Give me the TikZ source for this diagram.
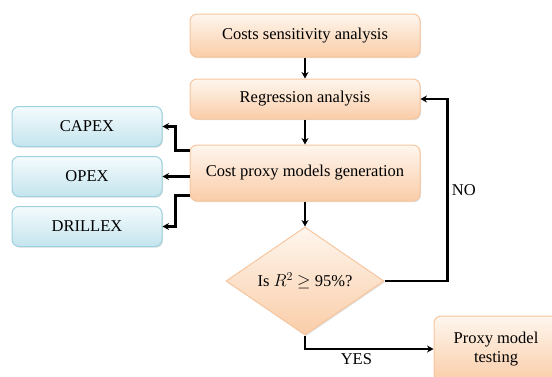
\documentclass[tikz,border=0pt]{standalone}
\usepackage{fontspec}
\setmainfont{Liberation Serif}
\usetikzlibrary{positioning}
\usetikzlibrary{shapes.geometric}
\usetikzlibrary{shadows}
\usetikzlibrary{arrows.meta}
\definecolor{peachline}{RGB}{248,198,158}
\definecolor{peachtop}{RGB}{254,246,238}
\definecolor{peachbottom}{RGB}{250,205,168}
\definecolor{iceline}{RGB}{158,210,224}
\definecolor{icetop}{RGB}{244,251,253}
\definecolor{icebottom}{RGB}{196,228,237}
\tikzset{flow node/.style={rectangle,rounded corners=7pt,draw=peachline,line width=1pt,top color=peachtop,bottom color=peachbottom,minimum width=230pt,inner sep=2pt,font=\fontsize{16.5}{19}\selectfont,drop shadow={shadow xshift=1pt,shadow yshift=-1.2pt,opacity=0.25}},
  cost node/.style={rectangle,rounded corners=7pt,draw=iceline,line width=1pt,top color=icetop,bottom color=icebottom,minimum width=150pt,minimum height=40pt,inner sep=2pt,font=\fontsize{16.5}{19}\selectfont,drop shadow={shadow xshift=1pt,shadow yshift=-1.2pt,opacity=0.25}},
  check node/.style={diamond,aspect=1.46,draw=peachline,line width=1pt,top color=peachtop,bottom color=peachbottom,minimum width=158pt,minimum height=108pt,inner sep=0pt,font=\fontsize{16.5}{19}\selectfont,drop shadow={shadow xshift=1pt,shadow yshift=-1.2pt,opacity=0.25}},}

\begin{document}
\begin{tikzpicture}[x=1pt,y=1pt,>={Stealth[length=6.5pt,width=7pt]}]
  \useasboundingbox (0,0) rectangle (552,-376);
  \clip (0,0) rectangle (552,-376);
   \node[flow node,minimum height=43pt] (sens) at (305,-35.5) {Costs sensitivity analysis};
    \node[flow node,minimum height=40pt] (regr) [below=21pt of sens] {Regression analysis};
    \node[flow node,minimum height=56pt] (gen) [below=25pt of regr] {Cost proxy models generation};
    \node[check node] (check) [below=25pt of gen] {Is \(R^2\) \(\geq\) 95\%?};
    \node[flow node,minimum width=124pt,minimum height=66pt,align=center] (test) at (496,-349) {Proxy model\\testing};
    \node[cost node] (opex) [left=27pt of gen,yshift=-3.5pt] {OPEX};
    \node[cost node] (capex) [above=9pt of opex] {CAPEX};
    \node[cost node] (drillex) [below=9pt of opex] {DRILLEX};

    \path[->,line width=2.2pt]
    (sens) edge node {} (regr)
    (regr) edge node {} (gen)
    (gen) edge node {} (check)
    (opex -| gen.west) edge node {} (opex.east);
    \draw[->,line width=2.2pt] ([yshift=-6pt]gen.north west) -- ++(-14,0) |- (capex.east);
    \draw[->,line width=2.2pt] ([yshift=6pt]gen.south west) -- ++(-14,0) |- (drillex.east);
    \draw[->,line width=2.2pt] (check.east) -- ++(63,0) |- node[pos=0.25,right,font=\fontsize{16.5}{19}\selectfont] {NO} (regr.east);
    \draw[->,line width=2.2pt] (check.south) |- node[pos=0.7,below,font=\fontsize{16.5}{19}\selectfont] {YES} (test.west);
  \end{tikzpicture}
\end{document}
